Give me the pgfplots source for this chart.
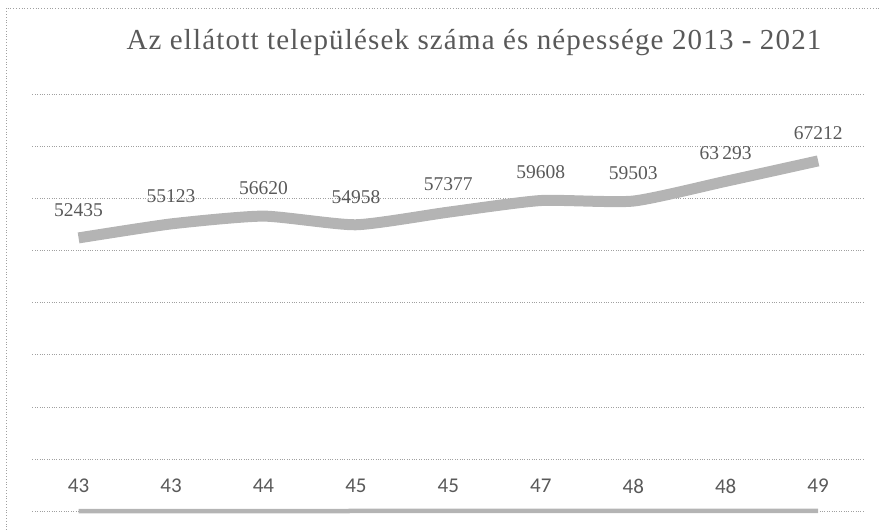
\documentclass[border=0pt]{standalone}
\usepackage{pgfplots}
\pgfplotsset{compat=1.18}
\usepackage{fontspec}
\setmainfont{Liberation Serif}
\newfontfamily\carlito{Carlito}
\newfontfamily\titlefont[LetterSpace=4]{Liberation Serif}
\definecolor{txt}{RGB}{89,89,89}
\definecolor{ln}{RGB}{180,180,180}
\definecolor{grd}{RGB}{160,160,160}
\begin{document}
\begin{tikzpicture}[x=1pt,y=1pt]
\useasboundingbox (0,0) rectangle (881,530);
\draw[grd, dotted, line width=0.8pt] (6,0) -- (6,522) -- (881,522);
\node[txt, font=\titlefont\fontsize{29}{32}\selectfont, anchor=center] at (474,487) {Az ellátott települések száma és népessége 2013 - 2021};
\begin{axis}[
  at={(35,36)}, anchor=south west,
  scale only axis, width=832pt, height=417pt,
  xmin=-0.5, xmax=8.5, ymin=0, ymax=80000,
  axis line style={draw=none},
  xtick=\empty,
  scaled y ticks=false,
  ytick={0,10000,...,80000}, yticklabels={},
  major tick length=0pt,
  ymajorgrids, major grid style={grd, dotted, line width=0.8pt},
  clip=false,
]
\addplot[ln, line width=11pt, smooth, tension=0.35,
  nodes near coords, point meta=explicit symbolic,
  every node near coord/.append style={anchor=center, yshift=28pt, text=txt, font=\fontsize{19.5}{21}\selectfont}]
  coordinates {
  (0,52435) [52435]
  (1,55123) [55123]
  (2,56620) [56620]
  (3,54958) [54958]
  (4,57377) [57377]
  (5,59608) [59608]
  (6,59503) [59503]
  (7,63293) [63\,293]
  (8,67212) [67212]
  };
\addplot[ln, line width=4.5pt,
  nodes near coords, point meta=explicit symbolic,
  every node near coord/.append style={anchor=center, yshift=25pt, text=txt, font=\carlito\fontsize{21}{23}\selectfont}]
  coordinates {
  (0,43) [43]
  (1,43) [43]
  (2,44) [44]
  (3,45) [45]
  (4,45) [45]
  (5,47) [47]
  (6,48) [48]
  (7,48) [48]
  (8,49) [49]
  };
\end{axis}
\end{tikzpicture}
\end{document}
